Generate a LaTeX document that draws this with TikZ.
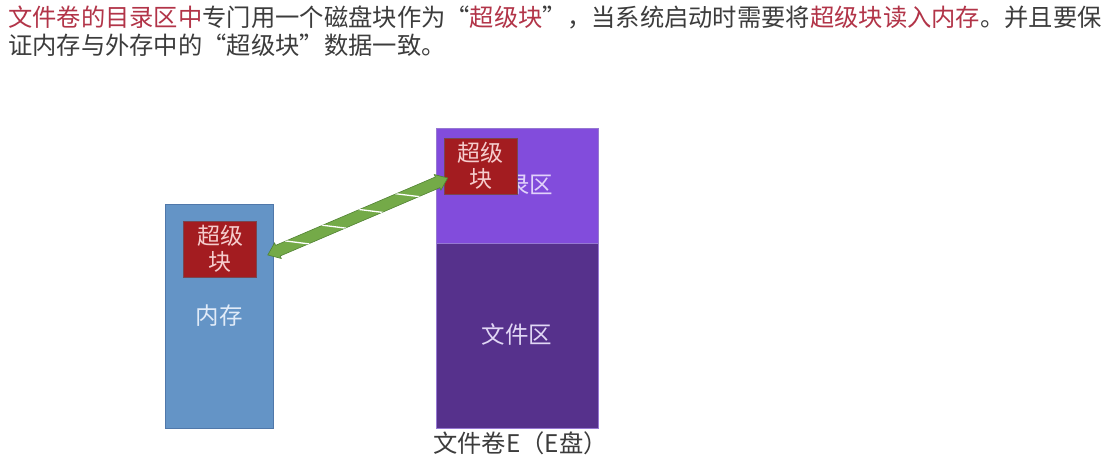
\documentclass[tikz,border=0pt]{standalone}
\usepackage{fontspec}
\newfontfamily\cjk{Noto Sans CJK SC}
\usetikzlibrary{calc}
\definecolor{memblue}{RGB}{100,148,198}
\definecolor{memedge}{RGB}{80,120,170}
\definecolor{dirpurple}{RGB}{130,76,220}
\definecolor{filepurple}{RGB}{86,49,140}
\definecolor{diskedge}{RGB}{150,120,210}
\definecolor{sbred}{RGB}{163,28,32}
\definecolor{sbedge}{RGB}{120,70,80}
\definecolor{sbtext}{RGB}{245,205,205}
\definecolor{hired}{RGB}{178,52,72}
\definecolor{bodygray}{RGB}{60,60,60}
\definecolor{arrgreen}{RGB}{116,170,72}
\definecolor{arrdark}{RGB}{80,130,50}
\definecolor{memtext}{RGB}{225,235,248}
\definecolor{dirtext}{RGB}{225,210,250}
\definecolor{filetext}{RGB}{225,215,245}
\newcommand{\cnlq}{\makebox[1em][r]{“}}
\newcommand{\cnrq}{\makebox[1em][l]{”}}
\begin{document}
\begin{tikzpicture}[x=1pt,y=-1pt,
  every node/.style={font=\cjk\fontsize{23.5}{27}\selectfont, inner sep=0pt},
  region/.style={draw=#1, line width=0.8pt, anchor=north west},
  sblock/.style={draw=sbedge, fill=sbred, line width=0.6pt, minimum width=73, minimum height=56, text=sbtext, align=center, font=\cjk\fontsize{23}{26}\selectfont},
  lbl/.style={text=#1},
  para/.style={anchor=west, text=bodygray, font=\cjk\fontsize{24.3}{28}\selectfont}]
\useasboundingbox (0,0) rectangle (1118,470);
\fill[white] (0,0) rectangle (1118,470);

% heading text
\node[para] (l1) at (8,17) {\textcolor{hired}{文件卷的目录区中}专门用一个磁盘块作为\cnlq\textcolor{hired}{超级块}\cnrq，当系统启动时需要将\textcolor{hired}{超级块读入内存}。并且要保};
\node[para] (l2) at (8,45) {证内存与外存中的\cnlq 超级块\cnrq 数据一致。};

% memory
\node[region=memedge, fill=memblue, minimum width=108, minimum height=224] (mem) at (165,204) {};
\node[lbl=memtext] (memtxt) at (219,316) {内存};

% disk
\node[region=diskedge, fill=dirpurple, minimum width=162, minimum height=115] (dir) at (436,128) {};
\node[region=diskedge, fill=filepurple, minimum width=162, minimum height=185] (file) at (436,243) {};
\node[lbl=dirtext] (dirtxt) at (518,185) {目录区};
\node[lbl=filetext] (filetxt) at (517,334) {文件区};
\node[para] (cap) at (433,443) {文件卷E（E盘）};

% super blocks
\node[sblock] (msb) at (220,249) {超级\\块};
\node[sblock] (dsb) at (480.5,166) {超级\\块};

% double arrow
\coordinate (a) at ($(msb.east)+(11,6)$);
\coordinate (b) at ($(dsb.west)+(4,12)$);
\path let \p1=(a), \p2=(b), \n1={atan2(\y2-\y1,\x2-\x1)}, \n2={veclen(\x2-\x1,\y2-\y1)} in
  \pgfextra{\xdef\arrang{\n1}\xdef\arrlen{\n2}};
\begin{scope}[shift={(a)}, rotate=\arrang]
  \path[fill=arrgreen, draw=arrdark, line width=0.6pt] (0,0) -- (11,-8.5) -- (11,-5.8) -- (\arrlen-11,-5.8) -- (\arrlen-11,-8.5) -- (\arrlen,0) -- (\arrlen-11,8.5) -- (\arrlen-11,5.8) -- (11,5.8) -- (11,8.5) -- cycle;
  \begin{scope}
    \clip (11,-5.8) rectangle (\arrlen-11,5.8);
    \foreach \s in {32,72,112,152}
      \draw[white, line width=1.3pt] (\s-12,-7) -- (\s+12,7);
  \end{scope}
\end{scope}
\end{tikzpicture}
\end{document}
